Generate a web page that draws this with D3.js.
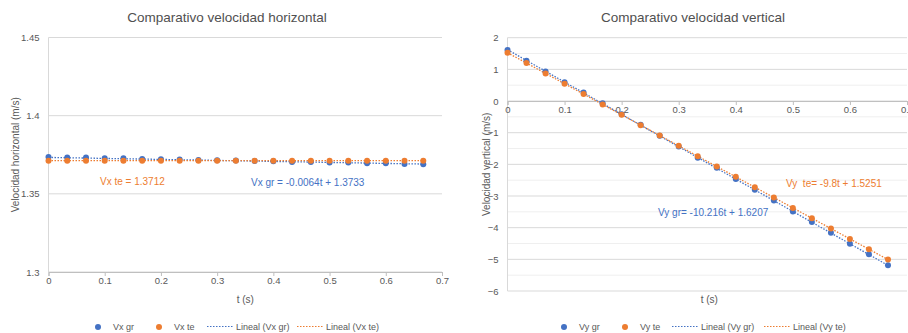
<!DOCTYPE html>
<html>
<head>
<meta charset="utf-8">
<script src="https://cdn.jsdelivr.net/npm/d3@7"></script>
<style>
  body { margin: 0; background: #fff; }
  svg { font-family: "Liberation Sans", Arial, sans-serif; }
</style>
</head>
<body>
<svg id="chart" width="908" height="333"></svg>
<script>
// time values (s)
const t = [0, 0.0333, 0.0667, 0.1, 0.1333, 0.1667, 0.2, 0.2333, 0.2667, 0.3, 0.3333,
           0.3667, 0.4, 0.4333, 0.4667, 0.5, 0.5333, 0.5667, 0.6, 0.6333, 0.6667]

// horizontal velocity
const vx_gr = [1.3736, 1.3732, 1.3733, 1.3728, 1.3728, 1.3723, 1.3721, 1.3720, 1.3716, 1.3715, 1.3713,
               1.3710, 1.3708, 1.3704, 1.3703, 1.3701, 1.3700, 1.3696, 1.3695, 1.3691, 1.3690]
const vx_te = [1.3712, 1.3712, 1.3712, 1.3712, 1.3712, 1.3712, 1.3712, 1.3712, 1.3712, 1.3712, 1.3712,
               1.3712, 1.3712, 1.3712, 1.3712, 1.3712, 1.3712, 1.3712, 1.3712, 1.3712, 1.3712]

// vertical velocity
const vy_gr = [1.61, 1.27, 0.93, 0.59, 0.27, -0.07, -0.42, -0.75, -1.10, -1.44, -1.79,
               -2.11, -2.46, -2.80, -3.14, -3.49, -3.82, -4.16, -4.51, -4.84, -5.19]
const vy_te = [1.525, 1.198, 0.872, 0.545, 0.218, -0.108, -0.435, -0.762, -1.088, -1.415, -1.742,
               -2.068, -2.395, -2.722, -3.048, -3.375, -3.702, -4.028, -4.355, -4.682, -5.008]

// trend line coefficients [slope, intercept]
const fit_vx_gr = [-0.0064, 1.3733]
const fit_vx_te = [0, 1.3712]
const fit_vy_gr = [-10.216, 1.6207]
const fit_vy_te = [-9.8, 1.5251]

const xTicks = [0, 0.1, 0.2, 0.3, 0.4, 0.5, 0.6, 0.7]
const yTicksH = [1.3, 1.35, 1.4, 1.45]
const yTicksV = [-6, -5, -4, -3, -2, -1, 0, 1, 2]

const blue = "#4472C4"
const orange = "#ED7D31"
const grid = "#d9d9d9"
const txt = "#595959"

const svg = d3.select("#chart")

function drawChart(c) {
  const g = svg.append("g")

  const xScale = d3.scaleLinear().domain([0, 0.7]).range([c.left, c.right])
  const yScale = d3.scaleLinear().domain(c.yDomain).range([c.bottom, c.top])

  // minor grid
  if (c.minor) {
    g.selectAll(".minor").data(c.minor).enter().append("line")
      .attr("x1", c.left).attr("x2", c.right)
      .attr("y1", d => yScale(d)).attr("y2", d => yScale(d))
      .attr("stroke", "#efefef").attr("stroke-width", 1)
  }
  // major grid
  g.selectAll(".major").data(c.yTicks).enter().append("line")
    .attr("x1", c.left).attr("x2", c.right)
    .attr("y1", d => yScale(d)).attr("y2", d => yScale(d))
    .attr("stroke", grid).attr("stroke-width", 1)

  // y axis line
  g.append("line")
    .attr("x1", c.left).attr("x2", c.left)
    .attr("y1", c.top).attr("y2", c.bottom)
    .attr("stroke", grid)

  // x axis (sits on y = xAt)
  const xAxis = d3.axisBottom(xScale).tickValues(xTicks).tickSize(4).tickFormat(d3.format("~g"))
  const xa = g.append("g")
    .attr("transform", `translate(0,${yScale(c.xAt)})`)
    .call(xAxis)
  xa.select(".domain").attr("stroke", "#bfbfbf")
  xa.selectAll(".tick line").attr("stroke", "#bfbfbf")
  xa.selectAll("text").attr("fill", txt).attr("font-size", 9.5).attr("dy", "0.55em")

  // y axis labels
  const yAxis = d3.axisLeft(yScale).tickValues(c.yTicks).tickSize(0).tickPadding(9).tickFormat(d3.format("~g"))
  const ya = g.append("g").attr("transform", `translate(${c.left},0)`).call(yAxis)
  ya.select(".domain").remove()
  ya.selectAll("text").attr("fill", txt).attr("font-size", 9.5)

  // title
  g.append("text")
    .attr("x", c.titleX).attr("y", 22)
    .attr("text-anchor", "middle").attr("font-size", 13.5).attr("fill", "#505050")
    .text(c.title)

  // axis titles
  g.append("text")
    .attr("x", (c.left + c.right) / 2 + c.xTitleShift).attr("y", 303)
    .attr("text-anchor", "middle").attr("font-size", 10).attr("fill", txt)
    .text("t (s)")
  g.append("text")
    .attr("transform", `translate(${c.yTitleX},${(c.top + c.bottom) / 2}) rotate(-90)`)
    .attr("text-anchor", "middle").attr("font-size", 10).attr("fill", txt)
    .text(c.yTitle)

  // trend lines
  const series = [
    { vals: c.gr, fit: c.fitGr, color: blue },
    { vals: c.te, fit: c.fitTe, color: orange }
  ]
  series.forEach(s => {
    const t0 = t[0], t1 = t[t.length - 1]
    g.append("line")
      .attr("x1", xScale(t0)).attr("y1", yScale(s.fit[0] * t0 + s.fit[1]))
      .attr("x2", xScale(t1)).attr("y2", yScale(s.fit[0] * t1 + s.fit[1]))
      .attr("stroke", s.color).attr("stroke-width", 1.3).attr("stroke-dasharray", "1.5,1.5")
  })
  // points
  series.forEach(s => {
    g.selectAll(null).data(t).enter().append("circle")
      .attr("cx", d => xScale(d))
      .attr("cy", (d, i) => yScale(s.vals[i]))
      .attr("r", 3)
      .attr("fill", s.color)
  })

  // equation labels
  c.labels.forEach(l => {
    g.append("text")
      .attr("x", l.x).attr("y", l.y)
      .attr("font-size", 10).attr("fill", l.color)
      .attr("xml:space", "preserve")
      .text(l.text)
  })

  // legend
  const lg = g.append("g").attr("font-size", 9).attr("fill", txt)
  const L = c.legend
  lg.append("circle").attr("cx", L[0]).attr("cy", 327).attr("r", 3).attr("fill", blue)
  lg.append("text").attr("x", L[0] + 15).attr("y", 330).text(c.names[0])
  lg.append("circle").attr("cx", L[1]).attr("cy", 327).attr("r", 3).attr("fill", orange)
  lg.append("text").attr("x", L[1] + 15).attr("y", 330).text(c.names[1])
  lg.append("line").attr("x1", L[2]).attr("x2", L[2] + 26).attr("y1", 326.5).attr("y2", 326.5)
    .attr("stroke", blue).attr("stroke-width", 1.2).attr("stroke-dasharray", "1.5,1.5")
  lg.append("text").attr("x", L[2] + 29).attr("y", 330).text("Lineal (" + c.names[0] + ")")
  lg.append("line").attr("x1", L[3]).attr("x2", L[3] + 26).attr("y1", 326.5).attr("y2", 326.5)
    .attr("stroke", orange).attr("stroke-width", 1.2).attr("stroke-dasharray", "1.5,1.5")
  lg.append("text").attr("x", L[3] + 29).attr("y", 330).text("Lineal (" + c.names[1] + ")")
}

drawChart({
  left: 48.5, right: 442, top: 37.5, bottom: 272,
  yDomain: [1.3, 1.45], yTicks: yTicksH, xAt: 1.3,
  title: "Comparativo velocidad horizontal", titleX: 227,
  yTitle: "Velocidad horizontal (m/s)", yTitleX: 19, xTitleShift: 0,
  gr: vx_gr, te: vx_te, fitGr: fit_vx_gr, fitTe: fit_vx_te,
  labels: [
    { x: 100, y: 185, color: orange, text: "Vx te = 1.3712" },
    { x: 251, y: 186, color: blue, text: "Vx gr = -0.0064t + 1.3733" }
  ],
  names: ["Vx gr", "Vx te"],
  legend: [98, 159, 207, 297]
})

drawChart({
  left: 507.5, right: 907, top: 37.7, bottom: 291,
  yDomain: [-6, 2], yTicks: yTicksV, xAt: 0,
  minor: [-5.5, -4.5, -3.5, -2.5, -1.5, -0.5, 0.5, 1.5],
  title: "Comparativo velocidad vertical", titleX: 693,
  yTitle: "Velocidad vertical (m/s)", yTitleX: 490, xTitleShift: 2,
  gr: vy_gr, te: vy_te, fitGr: fit_vy_gr, fitTe: fit_vy_te,
  labels: [
    { x: 786, y: 187, color: orange, text: "Vy  te= -9.8t + 1.5251" },
    { x: 658, y: 216, color: blue, text: "Vy gr= -10.216t + 1.6207" }
  ],
  names: ["Vy gr", "Vy te"],
  legend: [564, 625, 672, 764]
})
</script>
</body>
</html>
